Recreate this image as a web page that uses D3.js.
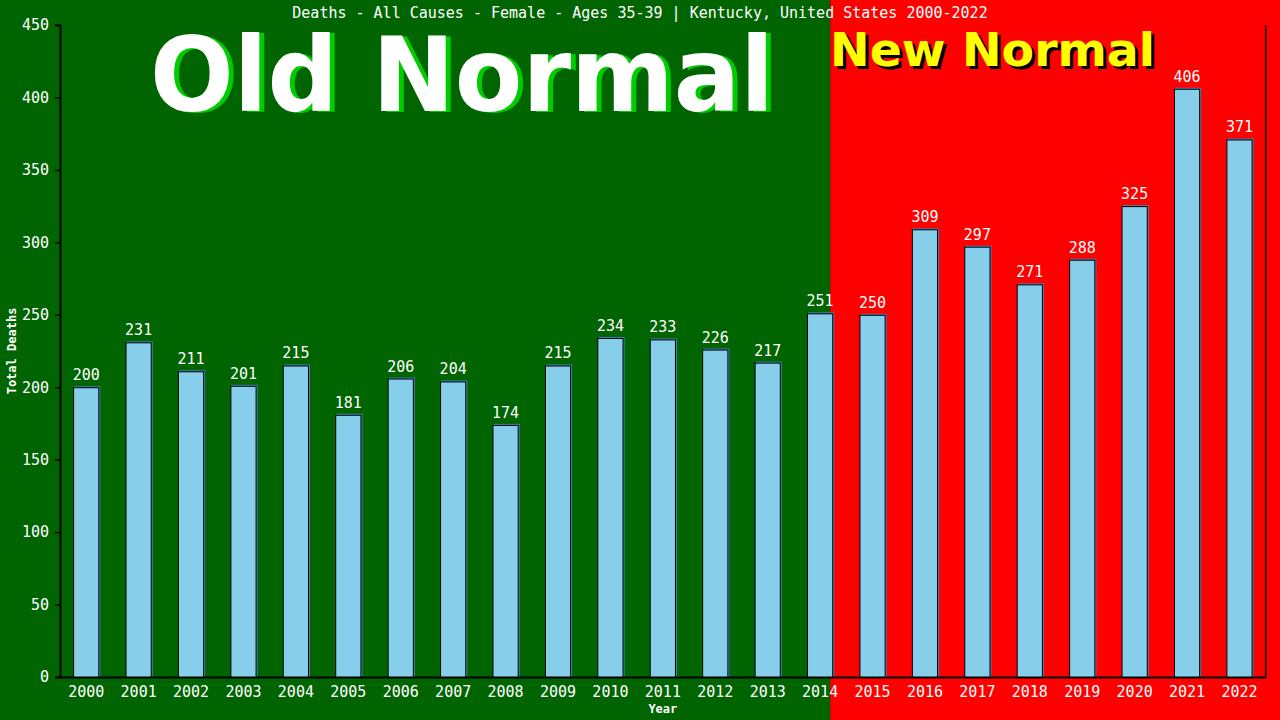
<!DOCTYPE html>
<html>
<head>
<meta charset="utf-8">
<script src="https://cdn.jsdelivr.net/npm/d3@7"></script>
<style>
  body { margin: 0; background: #000; }
  text { font-family: "DejaVu Sans Mono", monospace; }
</style>
</head>
<body>
<div id="chart"></div>
<script>
var years = ["2000","2001","2002","2003","2004","2005","2006","2007","2008","2009","2010","2011",
    "2012","2013","2014","2015","2016","2017","2018","2019","2020","2021","2022"];
var deaths = [200,231,211,201,215,181,206,204,174,215,234,233,226,217,251,250,309,297,271,288,325,406,371];
var yTicks = [0,50,100,150,200,250,300,350,400,450];
var splitYear = "2014";

var width = 1280, height = 720;
var margin = {top: 25, right: 14.3, bottom: 43, left: 60};
var w = width - margin.left - margin.right,
    h = height - margin.top - margin.bottom;

var svg = d3.select("#chart").append("svg")
    .attr("width", width)
    .attr("height", height);

var x = d3.scaleBand()
    .domain(years)
    .range([0, w])
    .paddingInner(0.5)
    .paddingOuter(0.25);

var y = d3.scaleLinear()
    .domain([0, 450])
    .range([h, 0]);

// backgrounds: old normal / new normal
var splitX = margin.left + x(splitYear) + x.bandwidth() - 3;
svg.append("rect")
    .attr("x", 0).attr("y", 0)
    .attr("width", splitX).attr("height", height)
    .attr("fill", "#006400");
svg.append("rect")
    .attr("x", splitX).attr("y", 0)
    .attr("width", width - splitX).attr("height", height)
    .attr("fill", "#ff0000");

// big labels (shadow first, then face)
function bigLabel(txt, x0, y0, size, len, dx, dy, shadow, face) {
    [[dx, dy, shadow], [0, 0, face]].forEach(function(p) {
        svg.append("text")
            .attr("x", x0 + p[0]).attr("y", y0 + p[1])
            .attr("textLength", len)
            .attr("lengthAdjust", "spacingAndGlyphs")
            .style("font-family", "'DejaVu Sans', sans-serif")
            .style("font-weight", "bold")
            .style("font-size", size + "px")
            .attr("fill", p[2])
            .text(txt);
    });
}
bigLabel("Old Normal", 150, 110.5, 103, 624, 5, 1, "#00cc00", "#ffffff");
bigLabel("New Normal", 830, 66, 46, 325, 3, 3, "#000000", "#ffff00");

// title
svg.append("text")
    .attr("x", 640).attr("y", 18)
    .attr("text-anchor", "middle")
    .style("font-size", "15px")
    .attr("fill", "#fff")
    .text("Deaths - All Causes - Female - Ages 35-39 | Kentucky, United States 2000-2022");

var g = svg.append("g")
    .attr("transform", "translate(" + margin.left + "," + margin.top + ")");

// bars: shadow then main
g.selectAll(".bar-shadow")
    .data(deaths)
    .enter().append("rect")
    .attr("class", "bar-shadow")
    .attr("x", function(d, i) { return x(years[i]) + 1; })
    .attr("y", function(d) { return y(d) - 1; })
    .attr("width", x.bandwidth())
    .attr("height", function(d) { return h - y(d) + 1; })
    .attr("fill", "#4682b4");

g.selectAll(".bar")
    .data(deaths)
    .enter().append("rect")
    .attr("class", "bar")
    .attr("x", function(d, i) { return x(years[i]) + 0.5; })
    .attr("y", function(d) { return y(d) + 0.5; })
    .attr("width", x.bandwidth() - 1)
    .attr("height", function(d) { return h - y(d); })
    .attr("fill", "#87ceeb")
    .attr("stroke", "#000")
    .attr("stroke-width", 1);

// value labels
g.selectAll(".val")
    .data(deaths)
    .enter().append("text")
    .attr("class", "val")
    .attr("x", function(d, i) { return x(years[i]) + x.bandwidth() / 2; })
    .attr("y", function(d) { return y(d) - 7; })
    .attr("text-anchor", "middle")
    .style("font-size", "15px")
    .attr("fill", "#fff")
    .text(function(d) { return d; });

// axes
var yAxis = d3.axisLeft(y).tickValues(yTicks).tickSize(5).tickPadding(6);
var xAxis = d3.axisBottom(x).tickSize(0).tickPadding(9);

var gy = g.append("g").attr("class", "y-axis axis").call(yAxis);
var gx = g.append("g").attr("class", "x-axis axis")
    .attr("transform", "translate(0," + h + ")")
    .call(xAxis);

[gy, gx].forEach(function(a) {
    a.select(".domain").attr("stroke", "#000").attr("stroke-width", 2);
    a.selectAll(".tick line").attr("stroke", "#000").attr("stroke-width", 1.5);
    a.selectAll("text")
        .attr("fill", "#fff")
        .style("font-family", "'DejaVu Sans Mono', monospace")
        .style("font-size", "15px");
});

// right border
g.append("line")
    .attr("x1", w).attr("x2", w)
    .attr("y1", 0).attr("y2", h)
    .attr("stroke", "#000")
    .attr("stroke-width", 1.5);

// axis titles
g.append("text")
    .attr("transform", "translate(-44," + (h / 2) + ") rotate(-90)")
    .attr("text-anchor", "middle")
    .style("font-size", "12px")
    .style("font-weight", "bold")
    .attr("fill", "#fff")
    .text("Total Deaths");

g.append("text")
    .attr("x", w / 2).attr("y", h + 36)
    .attr("text-anchor", "middle")
    .style("font-size", "12px")
    .style("font-weight", "bold")
    .attr("fill", "#fff")
    .text("Year");
</script>
</body>
</html>
